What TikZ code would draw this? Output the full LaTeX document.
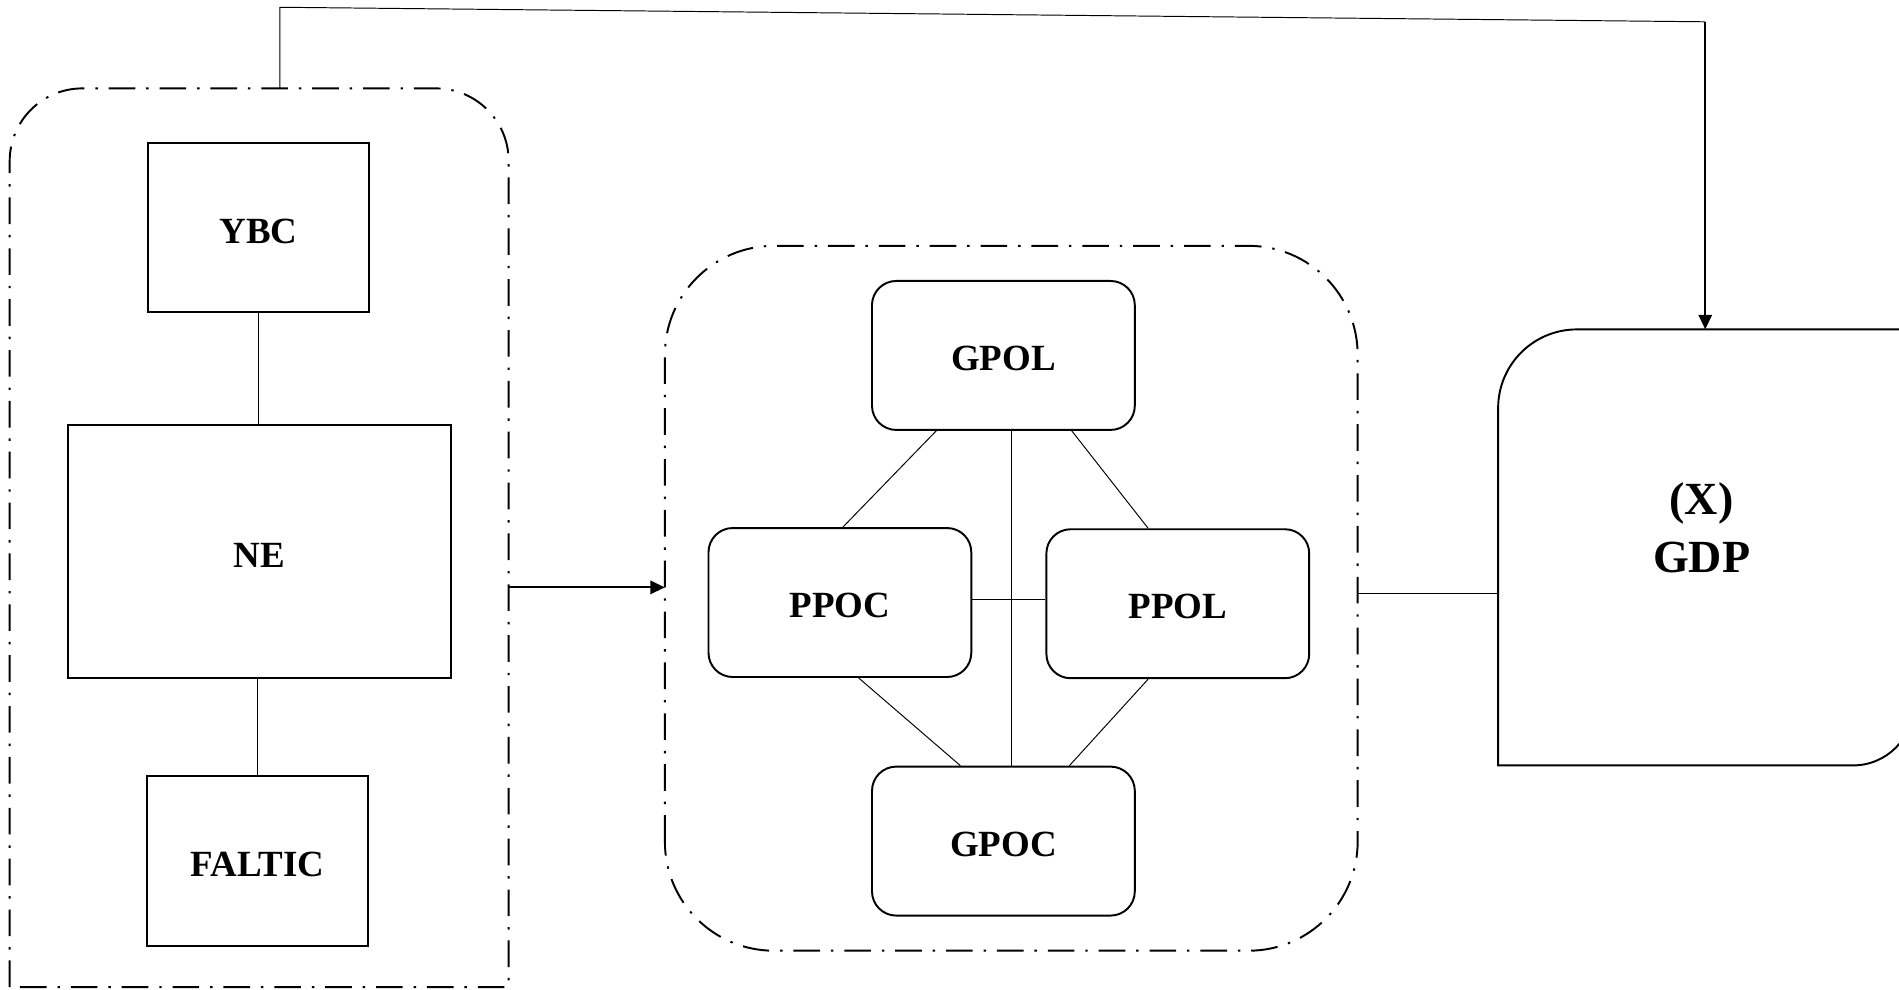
\documentclass[tikz,border=0pt]{standalone}
\usepackage{fontspec}
\setmainfont{Liberation Serif}
\usetikzlibrary{arrows.meta,calc}

\tikzset{
  groupline/.style={line width=1.6pt, dash pattern=on 22pt off 9pt on 2pt off 9pt},
  sqbox/.style={draw, line width=1.6pt, minimum width=183pt, minimum height=140pt,
                font=\fontsize{30.5}{36}\selectfont\bfseries, inner sep=0pt,
                text height=26pt, text depth=0pt},
  rbox/.style={draw, line width=1.6pt, rounded corners=20pt, minimum width=217pt,
               minimum height=123pt, font=\fontsize{30.5}{36}\selectfont\bfseries, inner sep=0pt,
               text height=25pt, text depth=0pt},
  thinlink/.style={line width=0.8pt},
  flow/.style={line width=1.6pt, -{Triangle[length=12pt,width=11pt]}},
}

\begin{document}
\begin{tikzpicture}[x=1pt,y=1pt]
  \clip (0,0) rectangle (1568,817);
  \fill[white] (0,0) rectangle (1568,817);

  % left group frame (open at the bottom edge of the page)
  \draw[groupline] (8,2) -- (8,684) arc[start angle=180,end angle=90,radius=60]
        -- (360,744) arc[start angle=90,end angle=0,radius=60] -- (420,2) -- cycle;
  \coordinate (lefttop) at (231,744);
  \coordinate (leftout) at (420,332);

  % left group members
  \node[sqbox] (ybc) at (213.5,629) {YBC};
  \node[sqbox, minimum width=316pt, minimum height=209pt] (ne) at (214,361.5) {NE};
  \node[sqbox] (faltic) at (212.5,106) {FALTIC};
  \draw[thinlink] (ybc.south) -- (ybc.south |- ne.north);
  \draw[thinlink] (ne.south -| faltic.north) -- (faltic.north);

  % middle group frame
  \draw[groupline, rounded corners=90pt] (549,32) rectangle (1121,614);
  \coordinate (midin) at (549,332);
  \coordinate (midout) at (1121,327);

  % middle group members
  \node[rbox] (gpol) at (828.5,523.5) {GPOL};
  \node[rbox] (ppoc) at (693.5,319.5) {PPOC};
  \node[rbox] (ppol) at (972.5,318.5) {PPOL};
  \node[rbox] (gpoc) at (828.5,122.5) {GPOC};

  \draw[thinlink] ([xshift=-55.5pt]gpol.south) -- ([xshift=2.5pt]ppoc.north);
  \draw[thinlink] ([xshift=56.5pt]gpol.south) -- ([xshift=-24.5pt]ppol.north);
  \draw[thinlink] ([xshift=6.5pt]gpol.south) -- ([xshift=6.5pt]gpoc.north);
  \draw[thinlink] ([yshift=2.5pt]ppoc.east) -- ([yshift=2.5pt]ppoc.east -| ppol.west);
  \draw[thinlink] ([xshift=15.5pt]ppoc.south) -- ([xshift=-35.5pt]gpoc.north);
  \draw[thinlink] ([xshift=-24.5pt]ppol.south) -- ([xshift=54.5pt]gpoc.north);

  % result block
  \draw[line width=1.6pt] (1237,185) -- (1237,480) arc[start angle=180,end angle=90,radius=65]
        -- (1580,545) -- (1580,235) arc[start angle=0,end angle=-90,radius=50] -- cycle;
  \node[font=\fontsize{38}{48}\selectfont\bfseries, align=center] (gdp) at (1405,381) {(X)\\GDP};
  \coordinate (gdptop) at (1408,545);
  \coordinate (gdpin) at (1237,327);

  % connectors
  \draw[flow] (leftout) -- (midin);
  \draw[thinlink] (midout) -- (gdpin);
  \coordinate (bendA) at (231,811);
  \coordinate (bendB) at (1408,799);
  \draw[thinlink] (lefttop) -- (bendA) -- (bendB);
  \draw[flow] (bendB) -- (gdptop);
\end{tikzpicture}
\end{document}
